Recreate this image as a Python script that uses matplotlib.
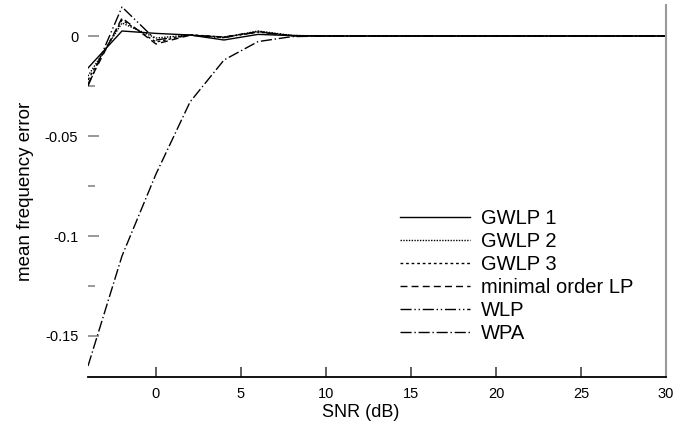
import matplotlib
matplotlib.use("Agg")
import matplotlib.pyplot as plt

plt.rcParams["font.family"] = ["Liberation Sans", "DejaVu Sans"]

# SNR grid (dB)
snr = [-4, -2, 0, 2, 4, 6, 8, 10, 12, 14, 16, 18, 20, 22, 24, 26, 28, 30]

# mean frequency error per method
gwlp1 = [-0.016, 0.0025, 0.0013, 0.0005, -0.002, 0.0008, 0.0002, 0, 0, 0, 0, 0, 0, 0, 0, 0, 0, 0]
gwlp2 = [-0.020, 0.0065, -0.001, 0.0005, -0.0008, 0.0025, 0.0003, 0, 0, 0, 0, 0, 0, 0, 0, 0, 0, 0]
gwlp3 = [-0.022, 0.008, -0.003, 0.0006, -0.0005, 0.002, 0.0002, 0, 0, 0, 0, 0, 0, 0, 0, 0, 0, 0]
minlp = [-0.024, 0.009, -0.004, 0.0004, -0.0005, 0.0022, 0.0001, 0, 0, 0, 0, 0, 0, 0, 0, 0, 0, 0]
wlp = [-0.025, 0.0145, -0.002, 0.0005, -0.0008, 0.002, 0.0002, 0, 0, 0, 0, 0, 0, 0, 0, 0, 0, 0]
wpa = [-0.165, -0.110, -0.069, -0.033, -0.012, -0.0028, -0.0003, 0, 0, 0, 0, 0, 0, 0, 0, 0, 0, 0]

labels = ["GWLP 1", "GWLP 2", "GWLP 3", "minimal order LP", "WLP", "WPA"]
styles = ["-", (0, (1, 1)), (0, (2, 2)), (0, (5, 3)), (0, (8, 2, 1, 2, 1, 2)), (0, (8, 2, 1, 2))]

xticks = [0, 5, 10, 15, 20, 25, 30]
yticks = [0, -0.05, -0.1, -0.15]
ytick_labels = ["0", "-0.05", "-0.1", "-0.15"]
yminor = [-0.025, -0.075, -0.125]

W, H = 694, 432
fig = plt.figure(figsize=(W / 100, H / 100), dpi=100)
ax = fig.add_axes([88 / W, 1 - 377 / H, (666 - 88) / W, (377 - 5) / H])

for ys, lab, ls in zip([gwlp1, gwlp2, gwlp3, minlp, wlp, wpa], labels, styles):
    ax.plot(snr, ys, color="black", linestyle=ls, linewidth=1.0, label=lab)

ax.set_xlim(-4, 30)
ax.set_ylim(-0.1705, 0.0155)

ax.set_xticks(xticks)
ax.set_xticklabels([str(t) for t in xticks])
ax.set_yticks(yticks)
ax.set_yticklabels(ytick_labels)
ax.set_yticks(yminor, minor=True)

ax.tick_params(axis="x", direction="in", length=7, width=1.2, color="#444444",
               labelsize=10.5, pad=7)
ax.tick_params(axis="y", which="major", direction="in", length=8, width=1.2,
               color="#888888", labelsize=10.5, pad=7)
ax.tick_params(axis="y", which="minor", direction="in", length=5, width=1.2,
               color="#888888")

ax.spines["top"].set_visible(False)
ax.spines["left"].set_visible(False)
ax.spines["bottom"].set_linewidth(1.3)
ax.spines["right"].set_color("#999999")
ax.spines["right"].set_linewidth(1.5)

ax.set_xlabel("SNR (dB)", fontsize=13)
ax.xaxis.set_label_coords(0.472, -0.073)
ax.set_ylabel("mean frequency error", fontsize=13.5)
ax.yaxis.set_label_coords(-0.093, 0.5)

ax.legend(loc="upper left", bbox_to_anchor=(400 / W, 1 - 209 / H),
          bbox_transform=fig.transFigure, frameon=False, fontsize=14.5,
          handlelength=3.48, handletextpad=0.55, borderpad=0, borderaxespad=0,
          labelspacing=0.2)

fig.savefig("out.png", dpi=100)
